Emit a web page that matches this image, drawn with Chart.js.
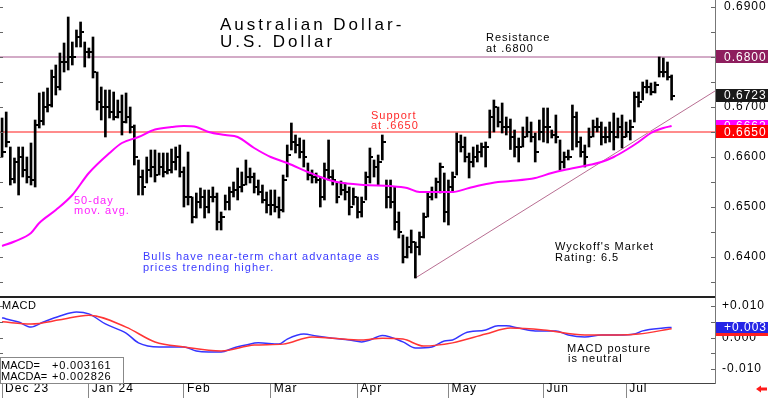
<!DOCTYPE html>
<html><head><meta charset="utf-8">
<script src="https://cdn.jsdelivr.net/npm/chart.js@4.4.1/dist/chart.umd.min.js"></script>
<style>
html,body{margin:0;padding:0;background:#fff;width:768px;height:398px;overflow:hidden}
#p{position:absolute;left:0;top:0}
#m{position:absolute;left:0;top:298px}
</style></head><body>
<canvas id="p" width="768" height="298"></canvas>
<canvas id="m" width="768" height="100"></canvas>
<script>
// ---------------- DATA ----------------
const highs = [
.6678,.6690,.6620,.6598,.6620,.6620,.6600,.6628,.6674,.6728,
.6730,.6738,.6774,.6784,.6808,.6828,.6880,.6830,.6854,.6870,
.6830,.6818,.6840,.6770,.6740,.6734,.6734,.6730,.6714,.6724,
.6728,.6700,.6664,.6594,.6574,.6600,.6614,.6614,.6608,.6608,
.6608,.6616,.6620,.6624,.6580,.6610,.6520,.6528,.6538,.6534,
.6534,.6540,.6528,.6490,.6524,.6540,.6550,.6578,.6570,.6594,
.6578,.6568,.6554,.6544,.6530,.6534,.6534,.6520,.6564,.6624,
.6668,.6644,.6638,.6634,.6588,.6574,.6568,.6560,.6588,.6634,
.6574,.6548,.6552,.6548,.6540,.6538,.6520,.6520,.6570,.6618,
.6594,.6604,.6644,.6554,.6554,.6540,.6490,.6444,.6440,.6454,
.6430,.6450,.6488,.6528,.6540,.6558,.6588,.6568,.6554,.6570,
.6648,.6644,.6640,.6608,.6620,.6624,.6628,.6630,.6694,.6714,
.6700,.6708,.6680,.6676,.6654,.6638,.6660,.6680,.6670,.6648,
.6674,.6698,.6698,.6654,.6684,.6634,.6610,.6614,.6704,.6690,
.6640,.6624,.6658,.6674,.6678,.6670,.6660,.6670,.6688,.6678,
.6684,.6670,.6674,.6730,.6730,.6750,.6754,.6748,.6750,.6800,
.6798,.6790,.6764];
const lows = [
.6600,.6620,.6544,.6548,.6524,.6560,.6548,.6544,.6540,.6658,
.6664,.6690,.6700,.6724,.6734,.6770,.6774,.6784,.6820,.6820,
.6780,.6798,.6758,.6694,.6674,.6640,.6678,.6674,.6678,.6644,
.6668,.6648,.6584,.6524,.6524,.6548,.6560,.6550,.6564,.6560,
.6566,.6568,.6574,.6560,.6500,.6504,.6468,.6478,.6498,.6478,
.6488,.6510,.6454,.6454,.6494,.6494,.6520,.6514,.6530,.6544,
.6548,.6528,.6524,.6508,.6488,.6484,.6490,.6478,.6490,.6560,
.6614,.6608,.6598,.6580,.6554,.6548,.6548,.6500,.6514,.6554,
.6544,.6508,.6524,.6514,.6484,.6504,.6478,.6480,.6514,.6548,
.6560,.6544,.6594,.6498,.6498,.6454,.6438,.6388,.6398,.6408,
.6358,.6404,.6438,.6480,.6514,.6518,.6528,.6470,.6464,.6530,
.6564,.6610,.6590,.6558,.6580,.6590,.6600,.6580,.6638,.6650,
.6660,.6648,.6644,.6615,.6600,.6590,.6620,.6640,.6630,.6590,
.6634,.6630,.6628,.6638,.6628,.6574,.6578,.6594,.6614,.6620,
.6600,.6580,.6620,.6640,.6650,.6624,.6628,.6630,.6614,.6638,
.6618,.6640,.6634,.6670,.6700,.6714,.6728,.6724,.6728,.6760,
.6760,.6754,.6714];
const closes = [
.6610,.6630,.6556,.6590,.6600,.6575,.6560,.6555,.6665,.6672,
.6700,.6705,.6760,.6740,.6790,.6790,.6800,.6800,.6840,.6850,
.6810,.6810,.6770,.6710,.6700,.6700,.6690,.6680,.6690,.6670,
.6680,.6660,.6600,.6560,.6540,.6575,.6580,.6565,.6580,.6570,
.6575,.6590,.6600,.6570,.6520,.6520,.6480,.6510,.6520,.6500,
.6520,.6520,.6470,.6480,.6510,.6530,.6535,.6540,.6545,.6560,
.6560,.6540,.6530,.6515,.6505,.6505,.6500,.6495,.6555,.6605,
.6630,.6625,.6610,.6600,.6565,.6560,.6555,.6520,.6575,.6560,
.6555,.6520,.6535,.6530,.6500,.6520,.6490,.6510,.6560,.6600,
.6580,.6590,.6630,.6520,.6510,.6470,.6450,.6400,.6420,.6430,
.6420,.6440,.6480,.6520,.6530,.6550,.6580,.6490,.6540,.6560,
.6630,.6620,.6600,.6590,.6600,.6610,.6620,.6620,.6680,.6700,
.6670,.6660,.6660,.6640,.6620,.6620,.6640,.6650,.6640,.6610,
.6650,.6660,.6660,.6645,.6640,.6590,.6600,.6600,.6680,.6630,
.6610,.6600,.6640,.6660,.6660,.6640,.6640,.6650,.6640,.6660,
.6640,.6650,.6660,.6720,.6710,.6740,.6740,.6730,.6745,.6770,
.6770,.6760,.6723];

// 50-day moving average (bar index, value)
const maIdx = [0,3,7,9,13,17,21,26,29,33,37,41,44,47,50,54,57,61,65,69,74,77,81,88,94,98,101,105,109,113,116,120,123,129,133,136,142,145,148,151,154,157,160,162];
const maVal = [.6422,.6431,.6448,.6468,.6494,.6524,.6568,.6608,.6628,.6640,.6655,.6660,.6662,.6660,.6650,.6644,.6640,.6618,.6600,.6588,.6570,.6560,.6550,.6544,.6542,.6538,.6530,.6530,.6530,.6538,.6544,.6550,.6552,.6558,.6568,.6574,.6584,.6590,.6600,.6614,.6630,.6648,.6658,.6662];

// MACD (blue) and MACD average (red)
const macdIdx = [0,1,4,7,10,14,18,21,25,30,33,38,41,44,47,50,53,56,59,62,67,69,73,76,80,84,87,89,92,97,100,104,107,109,112,117,120,122,125,129,134,137,141,145,149,153,155,160,162];
const macdVal = [.0063,.0059,.0049,.0033,.0049,.0068,.0081,.0075,.0043,.0014,-.0017,-.0030,-.0030,-.0030,-.0043,-.0046,-.0046,-.0033,-.0024,-.0017,-.0021,-.0005,.0011,.0005,-.0002,-.0008,-.0014,-.0008,.0006,-.0014,-.0033,-.0030,-.0011,-.0008,.0014,.0024,.0037,.0037,.0030,.0021,.0021,.0008,.0002,.0008,.0008,.0011,.0021,.0030,.0032];
const sigIdx = [0,7,14,21,30,37,44,53,61,68,75,80,87,92,97,102,109,117,123,131,141,149,154,162];
const sigVal = [.0050,.0043,.0056,.0071,.0033,-.0014,-.0030,-.0043,-.0024,-.0021,.0002,-.0002,-.0008,-.0002,-.0005,-.0027,-.0017,.0011,.0030,.0024,.0008,.0008,.0011,.0028];

const monthIdx = [0,21,44,65,86,108,131,151];
const monthLabels = ['Dec 23','Jan 24','Feb','Mar','Apr','May','Jun','Jul'];
const priceLabelTicks = [0.64,0.65,0.66,0.67,0.68,0.69];
const priceMinorTicks = [0.635,0.64,0.645,0.65,0.655,0.66,0.665,0.67,0.675,0.68,0.685,0.69];
const macdLabelTicks = [-0.01,0,0.01];
const macdMinorTicks = [-0.01,-0.005,0,0.005,0.01];
const support = 0.6650, resistance = 0.6800;
const trendIdx = [100,172.5], trendVal = [0.6358,0.6732];
const lastClose = 0.6723, lastMA = 0.6662;
const macdLast = 0.003161, macdaLast = 0.002826;

// ---------------- RENDER ----------------
const FONT = "'Liberation Sans', Arial, sans-serif";
Chart.defaults.font.family = FONT;
Chart.defaults.font.size = 12;
Chart.defaults.color = '#000';

const XMIN = -0.5, XMAX = 172.5;

const tickImg = document.createElement('canvas');
tickImg.width = 7; tickImg.height = 2;
const tc = tickImg.getContext('2d'); tc.fillStyle = '#000'; tc.fillRect(4,0,3,2);

function txt(ctx, s, x, y, color, size, sp) {
  ctx.save();
  ctx.font = size + 'px ' + FONT;
  ctx.letterSpacing = sp + 'px';
  ctx.fillStyle = color; ctx.textAlign = 'left'; ctx.textBaseline = 'alphabetic';
  ctx.fillText(s, x, y);
  ctx.restore();
}
function box(ctx, a, yy, bg, label, h) {
  ctx.save();
  ctx.fillStyle = bg;
  ctx.fillRect(a.right + 1, Math.round(yy - h/2), 768 - a.right - 1, h);
  ctx.font = '12px ' + FONT; ctx.letterSpacing = '1px';
  ctx.fillStyle = '#fff'; ctx.textBaseline = 'middle'; ctx.textAlign = 'left';
  ctx.fillText(label, a.right + 9, yy + 0.5);
  ctx.restore();
}
const spacingPlugin = {
  id: 'spacing',
  beforeLayout(c) { c.ctx.letterSpacing = '1px'; },
  beforeDraw(c) { c.ctx.letterSpacing = '1px'; }
};
const noPadV = s => { s.width = 53; s.paddingTop = 0; s.paddingBottom = 0; };

const pricePlugin = {
  id: 'priceAnnot',
  afterDraw(c) {
    const ctx = c.ctx, a = c.chartArea, y = c.scales.y;
    ctx.save(); ctx.strokeStyle = '#666'; ctx.lineWidth = 1;
    priceMinorTicks.forEach(v => {
      const yy = Math.round(y.getPixelForValue(v)) + 0.5;
      ctx.beginPath(); ctx.moveTo(a.right - 4, yy); ctx.lineTo(a.right, yy); ctx.stroke();
      ctx.beginPath(); ctx.moveTo(0, yy); ctx.lineTo(3, yy); ctx.stroke();
    });
    ctx.restore();
    ctx.fillStyle = '#222'; ctx.fillRect(0, a.bottom - 2, a.right, 2);
    txt(ctx, 'Australian Dollar-', 220, 30, '#000', 17, 3);
    txt(ctx, 'U.S. Dollar', 220, 47, '#000', 17, 3);
    txt(ctx, 'Resistance', 486, 41, '#000', 11, 1);
    txt(ctx, 'at .6800', 486, 52, '#000', 11, 1);
    txt(ctx, 'Support', 371, 119, '#ff2a2a', 11, 1);
    txt(ctx, 'at .6650', 371, 129, '#ff2a2a', 11, 1);
    txt(ctx, '50-day', 74, 204, '#ff22ff', 11, 1);
    txt(ctx, 'mov. avg.', 74, 214, '#ff22ff', 11, 1);
    txt(ctx, 'Bulls have near-term chart advantage as', 143, 260, '#3a3aff', 11, 1);
    txt(ctx, 'prices trending higher.', 143, 271, '#3a3aff', 11, 1);
    txt(ctx, "Wyckoff's Market", 555, 250, '#000', 11, 1);
    txt(ctx, 'Rating: 6.5', 555, 261, '#000', 11, 1);
    box(ctx, a, y.getPixelForValue(lastMA), '#ff00ff', lastMA.toFixed(4), 13);
    box(ctx, a, y.getPixelForValue(support), '#ff0000', support.toFixed(4), 13);
    box(ctx, a, y.getPixelForValue(resistance), '#8e1e5e', resistance.toFixed(4), 13);
    box(ctx, a, y.getPixelForValue(lastClose), '#1a1a1a', lastClose.toFixed(4), 13);
  }
};

const pts = (xs, ys) => xs.map((x, i) => ({x, y: ys[i]}));

new Chart(document.getElementById('p'), {
  type: 'bar',
  data: { datasets: [
    { type: 'line', data: pts(maIdx, maVal), borderColor: '#ff00ff', borderWidth: 2, pointRadius: 0, cubicInterpolationMode: 'monotone' },
    { type: 'bar', data: highs.map((h, i) => ({x: i, y: [lows[i], h]})), backgroundColor: '#000', barThickness: 2, grouped: false },
    { type: 'scatter', data: closes.map((c, i) => ({x: i, y: c})), pointStyle: tickImg, pointRadius: 3 },
    { type: 'line', data: pts([XMIN, XMAX], [resistance, resistance]), borderColor: '#c48fb4', borderWidth: 1.5, pointRadius: 0 },
    { type: 'line', data: pts([XMIN, XMAX], [support, support]), borderColor: '#ff8c8c', borderWidth: 2, pointRadius: 0 },
    { type: 'line', data: pts(trendIdx, trendVal), borderColor: '#b86e92', borderWidth: 1, pointRadius: 0 }
  ]},
  options: {
    responsive: false, animation: false, events: [], devicePixelRatio: 1,
    layout: { padding: 0, autoPadding: false },
    plugins: { legend: { display: false }, tooltip: { enabled: false } },
    scales: {
      x: { type: 'linear', min: XMIN, max: XMAX, display: false, offset: false },
      y: { position: 'right', min: 0.6318, max: 0.6914,
           afterBuildTicks: s => { s.ticks = priceLabelTicks.map(v => ({value: v})); },
           afterFit: noPadV,
           ticks: { autoSkip: false, padding: 9, color: '#000', font: { size: 12 }, callback: v => Number(v).toFixed(4) },
           grid: { drawOnChartArea: false, drawTicks: false, tickLength: 0 },
           border: { color: '#777', width: 1 } }
    }
  },
  plugins: [spacingPlugin, pricePlugin]
});

const macdPlugin = {
  id: 'macdAnnot',
  afterDraw(c) {
    const ctx = c.ctx, a = c.chartArea, y = c.scales.y;
    ctx.save(); ctx.strokeStyle = '#666'; ctx.lineWidth = 1;
    macdMinorTicks.forEach(v => {
      const yy = Math.round(y.getPixelForValue(v)) + 0.5;
      ctx.beginPath(); ctx.moveTo(a.right - 4, yy); ctx.lineTo(a.right, yy); ctx.stroke();
      ctx.beginPath(); ctx.moveTo(0, yy); ctx.lineTo(3, yy); ctx.stroke();
    });
    ctx.restore();
    txt(ctx, 'MACD', 2, 11, '#000', 11, 0.5);
    ctx.save();
    ctx.fillStyle = '#fff'; ctx.fillRect(0, 59, 123, 26);
    ctx.strokeStyle = '#888'; ctx.lineWidth = 1; ctx.strokeRect(0.5, 59.5, 123, 26);
    ctx.restore();
    const f = v => (v >= 0 ? '+' : '') + v.toFixed(6);
    txt(ctx, 'MACD=', 1, 71, '#000', 11, 0);
    txt(ctx, f(macdLast), 52, 71, '#000', 11, 0.8);
    txt(ctx, 'MACDA=', 1, 82, '#000', 11, 0);
    txt(ctx, f(macdaLast), 52, 82, '#000', 11, 0.8);
    txt(ctx, 'MACD posture', 567, 54, '#000', 11, 1);
    txt(ctx, 'is neutral', 568, 64, '#000', 11, 1);
    box(ctx, a, y.getPixelForValue(macdaLast) + 2, '#ff2020', '', 11);
    box(ctx, a, y.getPixelForValue(macdLast), '#2424e6', (macdLast >= 0 ? '+' : '') + macdLast.toFixed(3), 11);
    ctx.save(); ctx.fillStyle = '#ff1a1a';
    ctx.beginPath(); ctx.moveTo(756, 91); ctx.lineTo(761, 87.5); ctx.lineTo(761, 89.5); ctx.lineTo(767, 89.5);
    ctx.lineTo(767, 92.5); ctx.lineTo(761, 92.5); ctx.lineTo(761, 94.5); ctx.closePath(); ctx.fill();
    ctx.restore();
  }
};

new Chart(document.getElementById('m'), {
  type: 'line',
  data: { datasets: [
    { data: pts(sigIdx, sigVal), borderColor: '#ff3535', borderWidth: 1.5, pointRadius: 0, cubicInterpolationMode: 'monotone' },
    { data: pts(macdIdx, macdVal), borderColor: '#3535ff', borderWidth: 1.5, pointRadius: 0, cubicInterpolationMode: 'monotone' }
  ]},
  options: {
    responsive: false, animation: false, events: [], devicePixelRatio: 1,
    layout: { padding: 0, autoPadding: false },
    plugins: { legend: { display: false }, tooltip: { enabled: false } },
    scales: {
      x: { type: 'linear', min: XMIN, max: XMAX, position: 'bottom',
           afterBuildTicks: s => { s.ticks = monthIdx.map(v => ({value: v})); },
           afterFit: s => { s.height = 15; s.paddingLeft = 0; s.paddingRight = 0; },
           ticks: { autoSkip: false, maxRotation: 0, align: 'start', labelOffset: 3, padding: -16.7, color: '#000', font: { size: 12 },
                    callback: v => monthLabels[monthIdx.indexOf(v)] },
           grid: { drawOnChartArea: false, drawTicks: true, tickLength: 15, color: '#888' },
           border: { color: '#444', width: 1 } },
      y: { position: 'right', min: -0.01444, max: 0.01254,
           afterBuildTicks: s => { s.ticks = macdLabelTicks.map(v => ({value: v})); },
           afterFit: noPadV,
           ticks: { autoSkip: false, padding: 7, color: '#000', font: { size: 12 },
                    callback: v => v === 0 ? '0.000' : (v > 0 ? '+' : '') + Number(v).toFixed(3) },
           grid: { drawOnChartArea: false, drawTicks: false, tickLength: 0 },
           border: { color: '#777', width: 1 } }
    }
  },
  plugins: [spacingPlugin, macdPlugin]
});
</script>
</body></html>
